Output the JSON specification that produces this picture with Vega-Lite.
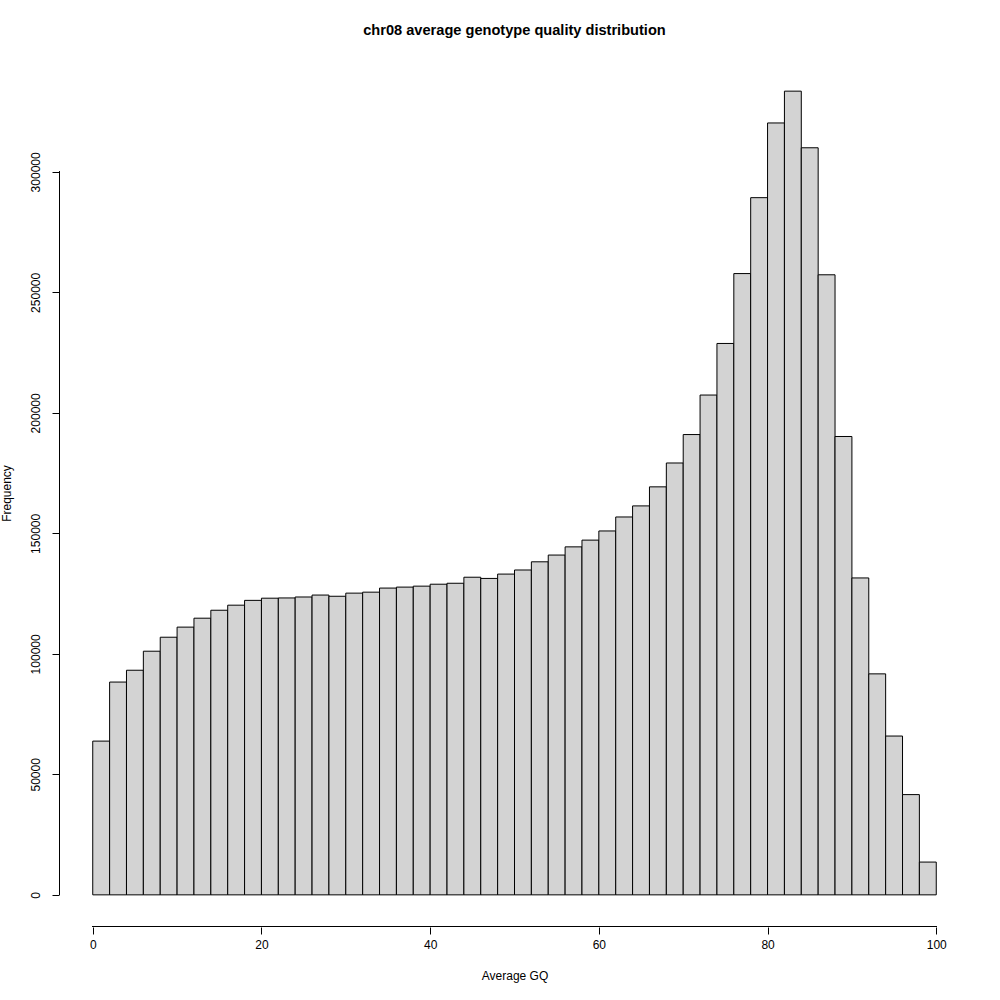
{
  "$schema": "https://vega.github.io/schema/vega-lite/v6.json",
  "description": "chr08 average GQ histogram",
  "autosize": {"type": "none"},
  "padding": {"left": 59, "top": 59, "right": 30, "bottom": 73},
  "width": 911,
  "height": 868,
  "background": "white",
  "title": {
    "text": "chr08 average genotype quality distribution",
    "font": "Liberation Sans",
    "fontSize": 14.6,
    "fontWeight": "bold",
    "color": "black",
    "anchor": "middle",
    "offset": 21
  },
  "config": {
    "view": {"stroke": null},
    "axis": {
      "labelFont": "Liberation Sans",
      "titleFont": "Liberation Sans",
      "labelFontSize": 12,
      "titleFontSize": 12,
      "labelColor": "black",
      "titleColor": "black",
      "titleFontWeight": "normal",
      "tickColor": "black",
      "tickSize": 7,
      "grid": false,
      "domain": false
    }
  },
  "data": {
    "values": [
      {"bin_start": 0, "bin_end": 2, "count": 63800},
      {"bin_start": 2, "bin_end": 4, "count": 88300},
      {"bin_start": 4, "bin_end": 6, "count": 93200},
      {"bin_start": 6, "bin_end": 8, "count": 101100},
      {"bin_start": 8, "bin_end": 10, "count": 106900},
      {"bin_start": 10, "bin_end": 12, "count": 111100},
      {"bin_start": 12, "bin_end": 14, "count": 114800},
      {"bin_start": 14, "bin_end": 16, "count": 118100},
      {"bin_start": 16, "bin_end": 18, "count": 120200},
      {"bin_start": 18, "bin_end": 20, "count": 122200},
      {"bin_start": 20, "bin_end": 22, "count": 123100},
      {"bin_start": 22, "bin_end": 24, "count": 123200},
      {"bin_start": 24, "bin_end": 26, "count": 123600},
      {"bin_start": 26, "bin_end": 28, "count": 124400},
      {"bin_start": 28, "bin_end": 30, "count": 123900},
      {"bin_start": 30, "bin_end": 32, "count": 125200},
      {"bin_start": 32, "bin_end": 34, "count": 125600},
      {"bin_start": 34, "bin_end": 36, "count": 127300},
      {"bin_start": 36, "bin_end": 38, "count": 127700},
      {"bin_start": 38, "bin_end": 40, "count": 128100},
      {"bin_start": 40, "bin_end": 42, "count": 128900},
      {"bin_start": 42, "bin_end": 44, "count": 129300},
      {"bin_start": 44, "bin_end": 46, "count": 131800},
      {"bin_start": 46, "bin_end": 48, "count": 131300},
      {"bin_start": 48, "bin_end": 50, "count": 133100},
      {"bin_start": 50, "bin_end": 52, "count": 134800},
      {"bin_start": 52, "bin_end": 54, "count": 138200},
      {"bin_start": 54, "bin_end": 56, "count": 141000},
      {"bin_start": 56, "bin_end": 58, "count": 144400},
      {"bin_start": 58, "bin_end": 60, "count": 147200},
      {"bin_start": 60, "bin_end": 62, "count": 151000},
      {"bin_start": 62, "bin_end": 64, "count": 156800},
      {"bin_start": 64, "bin_end": 66, "count": 161400},
      {"bin_start": 66, "bin_end": 68, "count": 169300},
      {"bin_start": 68, "bin_end": 70, "count": 179200},
      {"bin_start": 70, "bin_end": 72, "count": 191000},
      {"bin_start": 72, "bin_end": 74, "count": 207400},
      {"bin_start": 74, "bin_end": 76, "count": 228800},
      {"bin_start": 76, "bin_end": 78, "count": 257800},
      {"bin_start": 78, "bin_end": 80, "count": 289300},
      {"bin_start": 80, "bin_end": 82, "count": 320300},
      {"bin_start": 82, "bin_end": 84, "count": 333500},
      {"bin_start": 84, "bin_end": 86, "count": 310000},
      {"bin_start": 86, "bin_end": 88, "count": 257300},
      {"bin_start": 88, "bin_end": 90, "count": 190200},
      {"bin_start": 90, "bin_end": 92, "count": 131500},
      {"bin_start": 92, "bin_end": 94, "count": 91700},
      {"bin_start": 94, "bin_end": 96, "count": 65900},
      {"bin_start": 96, "bin_end": 98, "count": 41600},
      {"bin_start": 98, "bin_end": 100, "count": 13600}
    ]
  },
  "layer": [
    {
      "mark": {"type": "bar", "fill": "#D3D3D3", "stroke": "black", "strokeWidth": 1},
      "encoding": {
        "x": {
          "field": "bin_start",
          "type": "quantitative",
          "scale": {"domain": [-4, 104], "nice": false, "zero": false},
          "axis": {
            "title": "Average GQ",
            "values": [0, 20, 40, 60, 80, 100],
            "labelPadding": 5,
            "titlePadding": 20
          }
        },
        "x2": {"field": "bin_end"},
        "y": {
          "field": "count",
          "type": "quantitative",
          "scale": {"domain": [-13340, 346840], "nice": false, "zero": false},
          "axis": {
            "title": "Frequency",
            "values": [0, 50000, 100000, 150000, 200000, 250000, 300000],
            "format": "d",
            "labelAngle": -90,
            "labelAlign": "center",
            "labelBaseline": "bottom",
            "labelPadding": 10,
            "titlePadding": 16
          }
        },
        "y2": {"datum": 0}
      }
    },
    {
      "mark": {"type": "rule", "color": "black", "strokeWidth": 1, "yOffset": -0.5},
      "encoding": {
        "x": {"datum": 0, "type": "quantitative"},
        "x2": {"datum": 100},
        "y": {"datum": -13340, "type": "quantitative"}
      }
    },
    {
      "mark": {"type": "rule", "color": "black", "strokeWidth": 1, "xOffset": 0.5},
      "encoding": {
        "x": {"datum": -4, "type": "quantitative"},
        "y": {"datum": 0, "type": "quantitative"},
        "y2": {"datum": 300000}
      }
    }
  ]
}
